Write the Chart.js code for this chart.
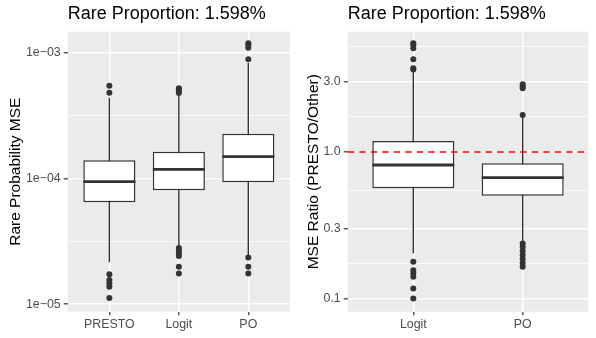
<!DOCTYPE html>
<html>
<head>
<meta charset="utf-8">
<script src="https://cdn.jsdelivr.net/npm/chart.js@4.4.1/dist/chart.umd.min.js"></script>
<style>
  html, body { margin: 0; padding: 0; background: #fff; }
  #wrap { position: relative; width: 596px; height: 338px; }
  canvas { position: absolute; top: 0; }
  #mseChart { left: 0; }
  #ratioChart { left: 298px; }
</style>
</head>
<body>
<div id="wrap">
  <canvas id="mseChart" width="298" height="338"></canvas>
  <canvas id="ratioChart" width="298" height="338"></canvas>
</div>
<script>
// left panel: rare probability MSE
const mseCategories = ["PRESTO", "Logit", "PO"];
const mseQ1 = [6.47e-5, 8.06e-5, 9.33e-5];
const mseMedian = [9.43e-5, 1.18e-4, 1.49e-4];
const mseQ3 = [1.396e-4, 1.63e-4, 2.27e-4];
const mseWhiskerLow = [2.16e-5, 2.87e-5, 2.47e-5];
const mseWhiskerHigh = [4.39e-4, 4.53e-4, 8.28e-4];
const mseOutliers = [
  [5.47e-4, 4.81e-4, 1.73e-5, 1.56e-5, 1.47e-5, 1.38e-5, 1.12e-5],
  [5.21e-4, 5.05e-4, 4.91e-4, 4.78e-4, 2.80e-5, 2.68e-5, 2.56e-5, 2.42e-5, 1.99e-5, 1.76e-5],
  [1.188e-3, 1.151e-3, 1.096e-3, 8.86e-4, 2.35e-5, 1.99e-5, 1.76e-5]
];
const mseTicks = [1e-5, 1e-4, 1e-3];
const mseTickLabels = ["1e\u221205", "1e\u221204", "1e\u221203"];
const mseMinorTicks = [3.1623e-5, 3.1623e-4];

// right panel: MSE ratio PRESTO / other
const ratioCategories = ["Logit", "PO"];
const ratioQ1 = [0.566, 0.504];
const ratioMedian = [0.816, 0.669];
const ratioQ3 = [1.188, 0.838];
const ratioWhiskerLow = [0.205, 0.245];
const ratioWhiskerHigh = [3.56, 1.72];
const ratioOutliers = [
  [5.49, 5.34, 5.08, 4.27, 3.71, 3.64, 0.179, 0.157, 0.150, 0.142, 0.118, 0.101],
  [2.89, 2.79, 2.71, 1.785, 0.239, 0.226, 0.212, 0.199, 0.187, 0.176, 0.166]
];
const ratioTicks = [0.1, 0.3, 1, 3];
const ratioTickLabels = ["0.1", "0.3", "1.0", "3.0"];
const ratioMinorTicks = [0.1732, 0.5477, 1.7321, 5.196];
const ratioReference = 1;

const FONT = "'Liberation Sans', Arial, Helvetica, sans-serif";
const DARK = "#333333";

const panelBackground = {
  id: "panelBackground",
  beforeDraw(chart) {
    const { ctx, chartArea: a } = chart;
    ctx.save();
    ctx.fillStyle = "#EBEBEB";
    ctx.fillRect(a.left, a.top, a.width, a.height);
    ctx.restore();
  }
};

// median bar drawn across each box, right after the boxes
const medianLines = {
  id: "medianLines",
  afterDatasetDraw(chart, args, opts) {
    if (args.meta.type !== "bar") return;
    const ctx = chart.ctx;
    const y = chart.scales.y;
    ctx.save();
    ctx.strokeStyle = DARK;
    ctx.lineWidth = 2.8;
    args.meta.data.forEach((el, i) => {
      const py = y.getPixelForValue(opts.values[i]);
      ctx.beginPath();
      ctx.moveTo(el.x - el.width / 2, py);
      ctx.lineTo(el.x + el.width / 2, py);
      ctx.stroke();
    });
    ctx.restore();
  }
};

function boxplotPanel(id, p) {
  const whiskers = [];
  const points = [];
  p.categories.forEach((c, i) => {
    whiskers.push({ x: i, y: p.whiskerLow[i] }, { x: i, y: p.whiskerHigh[i] }, { x: i, y: null });
    p.outliers[i].forEach((v) => points.push({ x: i, y: v }));
  });
  const xMax = p.categories.length - 0.4;

  const datasets = [
    {
      type: "line",
      data: whiskers,
      borderColor: DARK,
      borderWidth: 1.4,
      pointRadius: 0,
      order: 3
    },
    {
      type: "bar",
      data: p.categories.map((c, i) => ({ x: i, y: [p.q1[i], p.q3[i]] })),
      backgroundColor: "#ffffff",
      borderColor: DARK,
      borderWidth: 1.5,
      borderSkipped: false,
      barPercentage: 0.75,
      categoryPercentage: 1,
      order: 2
    },
    {
      type: "line",
      data: points,
      showLine: false,
      pointRadius: 3,
      pointBackgroundColor: DARK,
      pointBorderWidth: 0,
      order: 1
    }
  ];
  if (p.reference !== undefined) {
    datasets.push({
      type: "line",
      data: [{ x: -0.6, y: p.reference }, { x: xMax, y: p.reference }],
      borderColor: "#FF0000",
      borderWidth: 1.5,
      borderDash: [6.5, 5],
      pointRadius: 0,
      order: 0
    });
  }

  return new Chart(document.getElementById(id), {
    data: { datasets },
    plugins: [panelBackground, medianLines],
    options: {
      responsive: false,
      animation: false,
      layout: { padding: { left: 0, right: p.rightPad, top: 0, bottom: 0 } },
      plugins: {
        legend: { display: false },
        tooltip: { enabled: false },
        medianLines: { values: p.median },
        title: {
          display: true,
          text: "Rare Proportion: 1.598%",
          align: "start",
          fullSize: false,
          color: "#000",
          font: { family: FONT, size: 18, weight: "normal" },
          padding: { top: 3.4, bottom: 6.7 }
        }
      },
      scales: {
        x: {
          type: "linear",
          min: -0.6,
          max: xMax,
          offset: false,
          afterBuildTicks(scale) {
            scale.ticks = p.categories.map((c, i) => ({ value: i }));
          },
          afterFit(scale) { scale.height = 26.3; },
          ticks: {
            autoSkip: false,
            maxRotation: 0,
            padding: 1.5,
            color: "#4D4D4D",
            font: { family: FONT, size: 12.4 },
            callback: (v) => p.categories[v]
          },
          grid: {
            offset: false,
            color: "#ffffff",
            lineWidth: 1.6,
            tickColor: DARK,
            tickWidth: 1.2,
            tickLength: 3.5
          },
          border: { display: false }
        },
        y: {
          type: "logarithmic",
          min: p.yMin,
          max: p.yMax,
          afterBuildTicks(scale) {
            const t = p.ticks.map((v) => ({ value: v, isMinor: false }))
              .concat(p.minorTicks.map((v) => ({ value: v, isMinor: true })));
            t.sort((a, b) => a.value - b.value);
            scale.ticks = t;
          },
          afterFit(scale) { scale.width = p.yWidth; },
          ticks: {
            autoSkip: false,
            padding: 3,
            color: "#4D4D4D",
            font: { family: FONT, size: 12.4 },
            callback: (v) => {
              const k = p.ticks.indexOf(v);
              return k >= 0 ? p.tickLabels[k] : "";
            }
          },
          grid: {
            color: "#ffffff",
            lineWidth: (ctx) => (ctx.tick && ctx.tick.isMinor ? 0.8 : 1.6),
            tickColor: (ctx) => (ctx.tick && ctx.tick.isMinor ? "rgba(0,0,0,0)" : DARK),
            tickWidth: 1.2,
            tickLength: 4
          },
          border: { display: false },
          title: {
            display: true,
            text: p.yTitle,
            color: "#000",
            font: { family: FONT, size: 15.5 },
            padding: { top: 6.5, bottom: 0 }
          }
        }
      }
    }
  });
}

boxplotPanel("mseChart", {
  categories: mseCategories,
  q1: mseQ1, median: mseMedian, q3: mseQ3,
  whiskerLow: mseWhiskerLow, whiskerHigh: mseWhiskerHigh,
  outliers: mseOutliers,
  ticks: mseTicks, tickLabels: mseTickLabels, minorTicks: mseMinorTicks,
  yMin: 8.73e-6, yMax: 1.469e-3,
  yTitle: "Rare Probability MSE",
  yWidth: 67.7, rightPad: 8
});

boxplotPanel("ratioChart", {
  categories: ratioCategories,
  q1: ratioQ1, median: ratioMedian, q3: ratioQ3,
  whiskerLow: ratioWhiskerLow, whiskerHigh: ratioWhiskerHigh,
  outliers: ratioOutliers,
  ticks: ratioTicks, tickLabels: ratioTickLabels, minorTicks: ratioMinorTicks,
  yMin: 0.0820, yMax: 6.58,
  yTitle: "MSE Ratio (PRESTO/Other)",
  reference: ratioReference,
  yWidth: 49.7, rightPad: 7.7
});
</script>
</body>
</html>
